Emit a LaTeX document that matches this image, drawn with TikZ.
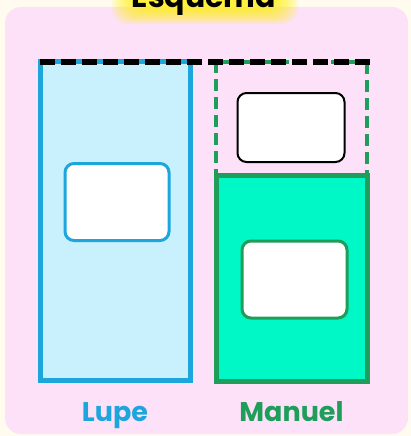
\documentclass[tikz,border=0pt]{standalone}
\usepackage{fontspec}
\setmainfont{Poppins}
\definecolor{cream}{HTML}{FFFCEF}
\definecolor{pinkbg}{HTML}{FCE1F8}
\definecolor{lblue}{HTML}{C9F0FD}
\definecolor{sblue}{HTML}{1CA6DC}
\definecolor{lgreen}{HTML}{00F7C6}
\definecolor{sgreen}{HTML}{1F9D5B}
\definecolor{glow}{HTML}{FFF200}
\tikzset{
  col/.style={draw, line width=5pt, inner sep=0pt, outer sep=0pt, anchor=north west},
  inbox/.style={draw=#1, fill=white, rounded corners=9pt, line width=3pt, inner sep=0pt, outer sep=0pt},
  lbl/.style={font=\bfseries\fontsize{27}{27}\selectfont, text=#1}
}
\begin{document}
\begin{tikzpicture}[x=1pt,y=-1pt]
\useasboundingbox (0,0) rectangle (411,436);
\fill[cream] (0,0) rectangle (411,436);
\fill[pinkbg, rounded corners=16pt] (5,7) rectangle (408,434);
% title glow
\foreach \i in {0,...,9}{
  \fill[glow, opacity=0.12, rounded corners=16pt] (112+\i*2.5,-30) rectangle (298-\i*2.5,24-\i*1.6);
}
\node[font=\bfseries\fontsize{30}{30}\selectfont, anchor=base] (title) at (204,8) {Esquema};
% Lupe
\node[col, draw=sblue, fill=lblue, minimum width=150pt, minimum height=318pt] (lupe) at (40,62) {};
\node[inbox=sblue, minimum width=104pt, minimum height=77pt] (lupebox) at (117,202) {};
% Manuel
\node[col, draw=sgreen, dashed, dash pattern=on 12pt off 6pt, line width=4pt, minimum width=151pt, minimum height=113pt] (mtop) at (216,62) {};
\node[inbox=black, line width=2pt, minimum width=107pt, minimum height=69pt] (mtopbox) at (291,127.5) {};
\node[col, draw=sgreen, fill=lgreen, minimum width=151pt, minimum height=206pt] (manuel) at (216,175) {};
\node[inbox=sgreen, minimum width=105pt, minimum height=77pt] (manbox) at (294.5,279.5) {};
% dashed level line
\coordinate (lineend) at (375,62);
\draw[line width=5.5pt, dash pattern=on 15pt off 6pt] (lupe.north west) -- (lineend);
% labels
\node[lbl=sblue, anchor=base] (lupelbl) at (lupe.south |- 0,421) {Lupe};
\node[lbl=sgreen, anchor=base] (manlbl) at (manuel.south |- 0,421) {Manuel};
\end{tikzpicture}
\end{document}
